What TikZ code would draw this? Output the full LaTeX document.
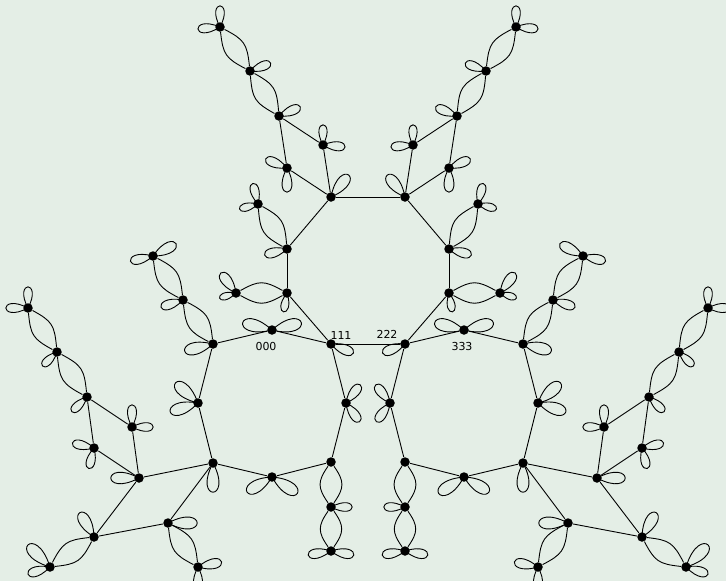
\documentclass[tikz,border=0pt]{standalone}
\usepackage{fontspec}
\setsansfont{DejaVu Sans}
\definecolor{bg}{RGB}{228,238,230}
\tikzset{
  dot/.style={circle,fill=black,inner sep=0pt,minimum size=9.5pt},
  lbl/.style={font=\sffamily\fontsize{11}{13}\selectfont,inner sep=0pt},
}
\newcommand\pet[3]{\draw (#1.center) .. controls +(#2+28:{1.52*#3}) and +(#2-28:{1.52*#3}) .. (#1.center);}
\newcommand\lens[3]{\draw (#1) to[bend left=#3,looseness=1.3] (#2); \draw (#1) to[bend right=#3,looseness=1.3] (#2);}
\newcommand\halfgraph[1]{%
  \node[dot] (#1T1) at (331,197) {};
  \node[dot] (#1A) at (323,145) {};
  \node[dot] (#1B) at (287,168) {};
  \node[dot] (#1C) at (279,116) {};
  \node[dot] (#1D) at (250,71) {};
  \node[dot] (#1E) at (220,27) {};
  \node[dot] (#1T2) at (287,249) {};
  \node[dot] (#1F) at (258,204) {};
  \node[dot] (#1T3) at (287,293) {};
  \node[dot] (#1G) at (236,293) {};
  \node[dot] (#1C1) at (331,344) {};
  \node[dot] (#1L0) at (272,330) {};
  \node[dot] (#1L1) at (213,344) {};
  \node[dot] (#1H) at (183,300) {};
  \node[dot] (#1I) at (153,256) {};
  \node[dot] (#1L2) at (198,403) {};
  \node[dot] (#1L3) at (213,463) {};
  \node[dot] (#1L4) at (272,477) {};
  \node[dot] (#1L5) at (331,462) {};
  \node[dot] (#1L6) at (346,403) {};
  \node[dot] (#1M) at (331,507) {};
  \node[dot] (#1N) at (331,551) {};
  \node[dot] (#1P) at (139,478) {};
  \node[dot] (#1Q) at (168,523) {};
  \node[dot] (#1R) at (94,537) {};
  \node[dot] (#1S) at (50,567) {};
  \node[dot] (#1U) at (198,567) {};
  \node[dot] (#1V) at (132,427) {};
  \node[dot] (#1W) at (94,448) {};
  \node[dot] (#1X) at (87,397) {};
  \node[dot] (#1Y) at (57,352) {};
  \node[dot] (#1Z) at (28,308) {};
  % single edges
  \draw (#1T1) -- (#1A); \draw (#1T1) -- (#1B);
  \draw (#1A) -- (#1C); \draw (#1B) -- (#1C);
  \draw (#1T1) -- (#1T2); \draw (#1T2) -- (#1T3);
  \draw (#1T3) -- (#1C1); \draw (#1C1) -- (#1L0);
  \draw (#1L0) -- (#1L1); \draw (#1L1) -- (#1L2);
  \draw (#1L2) -- (#1L3); \draw (#1L3) -- (#1L4);
  \draw (#1L4) -- (#1L5); \draw (#1L5) -- (#1L6);
  \draw (#1L6) -- (#1C1);
  \draw (#1L3) -- (#1P); \draw (#1L3) -- (#1Q);
  \draw (#1P) -- (#1R); \draw (#1Q) -- (#1R);
  \draw (#1P) -- (#1V); \draw (#1P) -- (#1W);
  \draw (#1V) -- (#1X); \draw (#1W) -- (#1X);
  % double edges
  \lens{#1C}{#1D}{28} \lens{#1D}{#1E}{28}
  \lens{#1T2}{#1F}{28} \lens{#1T3}{#1G}{29}
  \lens{#1L1}{#1H}{28} \lens{#1H}{#1I}{28}
  \lens{#1L5}{#1M}{35} \lens{#1M}{#1N}{35}
  \lens{#1R}{#1S}{28} \lens{#1Q}{#1U}{28}
  \lens{#1X}{#1Y}{28} \lens{#1Y}{#1Z}{28}
  % loops
  \pet{#1E}{-90}{21} \pet{#1E}{175}{22}
  \pet{#1D}{-21}{22}
  \pet{#1C}{-23}{23}
  \pet{#1A}{-90}{20} \pet{#1A}{5}{22}
  \pet{#1B}{-157}{23} \pet{#1B}{90}{24}
  \pet{#1T1}{-51}{28}
  \pet{#1F}{-104}{21} \pet{#1F}{165}{19}
  \pet{#1T2}{165}{23}
  \pet{#1T3}{100}{19}
  \pet{#1G}{-127}{25} \pet{#1G}{163}{17}
  \pet{#1L0}{-166}{30} \pet{#1L0}{-14}{30}
  \pet{#1C1}{22}{24}
  \pet{#1L1}{166}{29}
  \pet{#1H}{162}{23}
  \pet{#1I}{167}{23} \pet{#1I}{-28}{26}
  \pet{#1L2}{-138}{30} \pet{#1L2}{162}{29}
  \pet{#1L6}{-52}{23} \pet{#1L6}{54}{23}
  \pet{#1L3}{90}{29}
  \pet{#1L4}{149}{29} \pet{#1L4}{33}{30}
  \pet{#1M}{0}{21}
  \pet{#1N}{170}{23} \pet{#1N}{10}{23}
  \pet{#1P}{180}{28}
  \pet{#1Q}{0}{29}
  \pet{#1R}{-120}{28}
  \pet{#1S}{-135}{31} \pet{#1S}{162}{23}
  \pet{#1U}{-12}{24} \pet{#1U}{90}{22}
  \pet{#1V}{-90}{22} \pet{#1V}{0}{21}
  \pet{#1W}{-167}{22} \pet{#1W}{104}{21}
  \pet{#1X}{136}{21}
  \pet{#1Y}{136}{20}
  \pet{#1Z}{-90}{21} \pet{#1Z}{180}{22}
}
\begin{document}
\begin{tikzpicture}[x=1pt,y=-1pt,line width=0.9pt]
  \fill[bg] (0,0) rectangle (726,581);
  \useasboundingbox (0,0) rectangle (726,581);
  \halfgraph{L}
  \begin{scope}[xshift=736pt,xscale=-1]
    \halfgraph{R}
  \end{scope}
  \draw (LC1) -- (RC1);
  \draw (LT1) -- (RT1);
  \node[lbl] (t0) at (266,346) {000};
  \node[lbl] (t1) at (341,335) {111};
  \node[lbl] (t2) at (387,334) {222};
  \node[lbl] (t3) at (462,346) {333};
\end{tikzpicture}
\end{document}
